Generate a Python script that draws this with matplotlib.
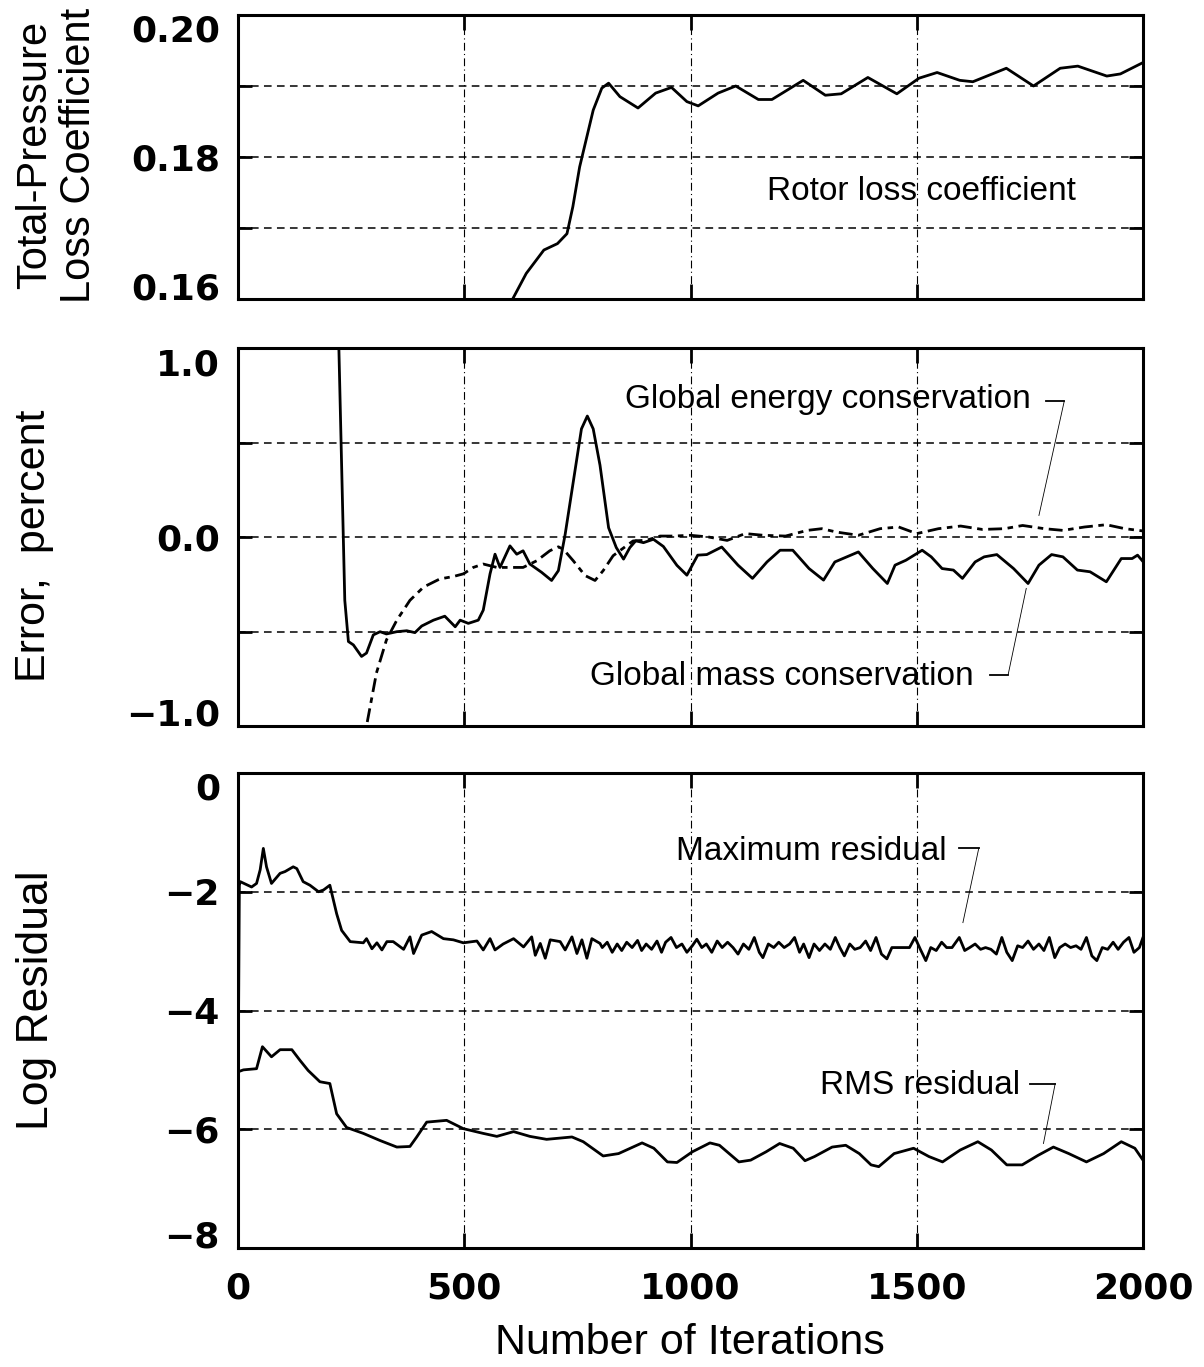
import matplotlib
matplotlib.use('Agg')
import matplotlib.pyplot as plt
from matplotlib.ticker import FuncFormatter

# ── data ────────────────────────────────────────────────────────────────────

# rotor total-pressure loss coefficient
loss_iter = [590, 607, 637, 676, 706, 727, 740, 755, 785, 804, 819, 844, 884, 923, 958,
             992, 1017, 1061, 1100, 1150, 1180, 1249, 1298, 1333, 1392, 1456, 1505, 1545,
             1595, 1624, 1698, 1758, 1817, 1856, 1920, 1950, 2000]
loss_val = [0.1585, 0.1600, 0.1636, 0.1669, 0.1678, 0.1692, 0.1730, 0.1786, 0.1866, 0.1897,
            0.1904, 0.1885, 0.1869, 0.1890, 0.1898, 0.1878, 0.1872, 0.1890, 0.1900, 0.1881,
            0.1881, 0.1908, 0.1887, 0.1889, 0.1912, 0.1889, 0.1911, 0.1919, 0.1908, 0.1906,
            0.1925, 0.1900, 0.1925, 0.1928, 0.1914, 0.1917, 0.1933]

# global mass conservation error (solid)
mass_iter = [218, 236, 244, 255, 273, 284, 299, 314, 328, 351,
             373, 391, 406, 432, 457, 480, 491, 509, 531, 542,
             557, 568, 579, 601, 616, 630, 645, 671, 693, 708,
             723, 741, 759, 772, 785, 800, 819, 836, 852, 866,
             879, 896, 918, 940, 970, 992, 1016, 1036, 1069, 1105,
             1137, 1169, 1198, 1226, 1262, 1294, 1319, 1371, 1403, 1435,
             1452, 1476, 1512, 1532, 1556, 1581, 1601, 1629, 1649, 1677,
             1714, 1746, 1770, 1798, 1823, 1855, 1883, 1919, 1952, 1976,
             1988, 2000]
mass_err = [1.5, -0.335, -0.553, -0.571, -0.632, -0.614, -0.518, -0.501, -0.513, -0.501,
            -0.496, -0.506, -0.471, -0.440, -0.419, -0.475, -0.440, -0.457, -0.440, -0.387,
            -0.195, -0.091, -0.161, -0.047, -0.091, -0.073, -0.143, -0.187, -0.230, -0.178,
            0.014, 0.293, 0.572, 0.640, 0.572, 0.380, 0.049, -0.056, -0.117, -0.056,
            -0.020, -0.030, -0.012, -0.050, -0.150, -0.202, -0.096, -0.093, -0.053, -0.149,
            -0.219, -0.132, -0.070, -0.070, -0.167, -0.228, -0.132, -0.079, -0.167, -0.246,
            -0.149, -0.123, -0.070, -0.105, -0.167, -0.175, -0.219, -0.132, -0.105, -0.093,
            -0.167, -0.246, -0.149, -0.093, -0.105, -0.175, -0.184, -0.237, -0.114, -0.114,
            -0.096, -0.130]

# global energy conservation error (dashed)
energy_iter = [270, 284, 306, 328, 351, 380, 410, 446, 476, 498,
               520, 542, 572, 601, 630, 660, 689, 708, 719, 741,
               767, 789, 807, 829, 848, 873, 903, 933, 962, 1000,
               1040, 1081, 1121, 1161, 1210, 1258, 1290, 1323, 1371, 1419,
               1460, 1500, 1548, 1597, 1645, 1694, 1734, 1782, 1823, 1871,
               1919, 1960, 2000]
energy_err = [-1.3, -1.0, -0.719, -0.545, -0.44, -0.335, -0.265, -0.222, -0.209, -0.195,
              -0.161, -0.143, -0.161, -0.161, -0.161, -0.126, -0.073, -0.052, -0.065, -0.126,
              -0.204, -0.230, -0.178, -0.099, -0.065, -0.021, -0.017, 0.005, 0.005, 0.009,
              0.0, -0.018, 0.018, 0.009, 0.005, 0.035, 0.044, 0.026, 0.009, 0.044,
              0.053, 0.018, 0.044, 0.058, 0.040, 0.044, 0.061, 0.044, 0.035, 0.053,
              0.065, 0.044, 0.032]

# log of maximum residual
max_iter = [0, 3, 5, 30, 41, 49, 56, 63, 74, 93,
            104, 122, 130, 144, 159, 178, 189, 203, 218, 229,
            248, 277, 284, 296, 307, 318, 329, 343, 366, 380,
            388, 406, 428, 454, 476, 498, 528, 542, 557, 568,
            586, 609, 631, 649, 657, 668, 679, 690, 712, 723,
            738, 749, 760, 771, 782, 800,
            805, 816, 827, 838, 848, 859, 871, 883, 892, 902,
            914, 926, 936, 945, 957, 969, 981, 992, 1004, 1014,
            1025, 1035, 1047, 1059, 1070, 1082, 1094, 1105, 1117, 1129,
            1141, 1152, 1160, 1172, 1184, 1195, 1207, 1219, 1230, 1241,
            1250, 1262, 1273, 1285, 1297, 1309, 1320, 1330, 1340, 1352,
            1363, 1375, 1387, 1398, 1410, 1422, 1434, 1445, 1457, 1469,
            1484, 1496, 1508, 1520, 1531, 1543, 1555, 1566, 1578, 1594,
            1606, 1617, 1629, 1641, 1652, 1664, 1676, 1688, 1699, 1711,
            1723, 1734, 1746, 1758, 1770, 1781, 1793, 1805, 1816, 1828,
            1840, 1852, 1863, 1875, 1887, 1898, 1910, 1922, 1934, 1945,
            1957, 1969, 1980, 1992, 2000]
max_res = [-5.6, -1.89, -1.83, -1.92, -1.86, -1.63, -1.27, -1.58, -1.86, -1.69,
           -1.66, -1.58, -1.61, -1.83, -1.89, -2.00, -1.97, -1.89, -2.37, -2.65,
           -2.84, -2.86, -2.79, -2.96, -2.86, -2.98, -2.84, -2.84, -2.97, -2.76,
           -3.04, -2.73, -2.67, -2.79, -2.81, -2.86, -2.83, -2.98, -2.79, -2.98,
           -2.88, -2.79, -2.93, -2.76, -3.07, -2.87, -3.12, -2.81, -2.84, -2.98,
           -2.76, -3.04, -2.81, -3.12, -2.79, -2.87,
           -2.94, -2.85, -3.02, -2.88, -2.99, -2.85, -2.94, -2.82, -2.99, -2.88,
           -2.97, -2.83, -3.02, -2.85, -2.77, -2.94, -2.88, -3.02, -2.91, -2.80,
           -2.94, -2.88, -3.02, -2.83, -2.94, -2.85, -2.94, -3.05, -2.88, -2.97,
           -2.77, -3.02, -3.11, -2.88, -2.94, -2.85, -2.94, -2.88, -2.77, -3.02,
           -2.88, -3.11, -2.88, -2.99, -2.88, -2.97, -2.77, -2.94, -3.08, -2.88,
           -2.97, -2.94, -2.83, -2.99, -2.77, -3.05, -3.13, -2.94, -2.94, -2.94,
           -2.94, -2.77, -2.97, -3.16, -2.94, -2.99, -2.85, -2.94, -2.94, -2.77,
           -2.99, -2.94, -2.88, -2.97, -2.94, -2.97, -3.05, -2.77, -3.02, -3.16,
           -2.91, -2.94, -2.83, -2.97, -2.88, -2.99, -2.77, -3.11, -2.94, -2.88,
           -2.94, -2.91, -2.97, -2.77, -3.08, -3.16, -2.94, -2.97, -2.85, -2.97,
           -2.85, -2.77, -3.02, -2.94, -2.77]

# log of RMS residual
rms_iter = [0, 1, 12, 41, 54, 74, 93, 119, 137, 155,
            181, 203, 218, 240, 277, 314, 351, 380, 395, 417,
            461, 498, 542, 572, 609, 645, 682, 738, 763,
            807, 841, 893, 919, 949, 970, 1004, 1043, 1064, 1107,
            1133, 1167, 1197, 1227, 1253, 1274, 1313, 1343, 1373, 1399,
            1416, 1450, 1493, 1527, 1557, 1596, 1635, 1665, 1699, 1733,
            1768, 1802, 1836, 1875, 1913, 1952, 1982, 2000]
rms_res = [-6.3, -5.03, -5.00, -4.98, -4.61, -4.78, -4.66, -4.66, -4.84, -5.01,
           -5.20, -5.23, -5.74, -5.97, -6.07, -6.19, -6.30, -6.29, -6.13, -5.88,
           -5.85, -5.99, -6.07, -6.12, -6.04, -6.12, -6.17, -6.13, -6.21,
           -6.45, -6.41, -6.23, -6.32, -6.55, -6.56, -6.38, -6.23, -6.27, -6.55,
           -6.52, -6.38, -6.24, -6.32, -6.53, -6.46, -6.30, -6.27, -6.41, -6.60,
           -6.63, -6.41, -6.32, -6.46, -6.55, -6.35, -6.21, -6.35, -6.60, -6.60,
           -6.44, -6.30, -6.41, -6.55, -6.41, -6.21, -6.32, -6.52]

x_ticks = [0, 500, 1000, 1500, 2000]

# ── figure ───────────────────────────────────────────────────────────────────

plt.rcParams['font.family'] = 'DejaVu Sans'
plt.rcParams['font.weight'] = 'bold'
TXT = dict(family='Liberation Sans', weight='normal')

W, H = 1204, 1367
fig = plt.figure(figsize=(W / 100, H / 100), dpi=100)


def panel(top, bottom):
    return fig.add_axes([238 / W, 1 - bottom / H, 905 / W, (bottom - top) / H])


ax1 = panel(15, 299)
ax2 = panel(348, 726)
ax3 = panel(773, 1248)

minus = FuncFormatter(lambda v, p: ('%.1f' % v).replace('-', '\u2212'))
intfmt = FuncFormatter(lambda v, p: ('%d' % round(v)).replace('-', '\u2212'))

for ax in (ax1, ax2, ax3):
    for s in ax.spines.values():
        s.set_linewidth(2.2)
    ax.set_xlim(0, 2000)
    ax.set_xticks(x_ticks)
    ax.tick_params(which='both', direction='in', top=True, right=True,
                   width=2, labelsize=26)
    ax.tick_params(axis='y', which='both', length=10, pad=13)
    ax.tick_params(axis='x', length=11, pad=17)
    ax.grid(axis='y', which='both', linestyle=(0, (5, 3.5)), lw=1.1, color='k')
    ax.grid(axis='x', linestyle=(0, (7, 3, 1, 3)), lw=0.8, color='k')
    if ax is not ax3:
        ax.tick_params(axis='x', labelbottom=False)

# panel 1
ax1.plot(loss_iter, loss_val, color='k', lw=2.0)
ax1.set_ylim(0.16, 0.20)
ax1.set_yticks([0.16, 0.18, 0.20])
ax1.set_yticks([0.17, 0.19], minor=True)
ax1.yaxis.set_major_formatter(FuncFormatter(lambda v, p: '%.2f' % v))
ax1.text(1510, 0.1751, 'Rotor loss coefficient', ha='center', va='center',
         fontsize=24, **TXT)

# panel 2
ax2.plot(mass_iter, mass_err, color='k', lw=2.0)
ax2.plot(energy_iter, energy_err, color='k', lw=2.0, linestyle=(0, (5, 2, 2, 2)))
ax2.set_ylim(-1.0, 1.0)
ax2.set_yticks([-1.0, 0.0, 1.0])
ax2.set_yticks([-0.5, 0.5], minor=True)
ax2.yaxis.set_major_formatter(minus)
ax2.text(1303, 0.728, 'Global energy conservation', ha='center', va='center',
         fontsize=24, **TXT)
ax2.plot([1786, 1826], [0.719, 0.719], color='k', lw=1.3)
ax2.plot([1826, 1770], [0.719, 0.114], color='k', lw=0.6)
ax2.text(1201, -0.737, 'Global mass conservation', ha='center', va='center',
         fontsize=24, **TXT)
ax2.plot([1661, 1702], [-0.728, -0.728], color='k', lw=1.3)
ax2.plot([1702, 1742], [-0.728, -0.272], color='k', lw=0.6)

# panel 3
ax3.plot(max_iter, max_res, color='k', lw=2.0)
ax3.plot(rms_iter, rms_res, color='k', lw=2.0)
ax3.set_ylim(-8, 0)
ax3.set_yticks([-8, -6, -4, -2, 0])
ax3.yaxis.set_major_formatter(intfmt)
ax3.text(1267, -1.32, 'Maximum residual', ha='center', va='center',
         fontsize=24, **TXT)
ax3.plot([1594, 1637], [-1.27, -1.27], color='k', lw=1.3)
ax3.plot([1637, 1602], [-1.27, -2.52], color='k', lw=0.6)
ax3.text(1508, -5.26, 'RMS residual', ha='center', va='center',
         fontsize=24, **TXT)
ax3.plot([1750, 1806], [-5.23, -5.23], color='k', lw=1.3)
ax3.plot([1806, 1780], [-5.23, -6.24], color='k', lw=0.6)

# end labels sit inside the frame like the original
for ax in (ax1, ax2, ax3):
    ticks = ax.yaxis.get_major_ticks()
    ticks[0].label1.set_va('baseline')
    ticks[-1].label1.set_va('top')

# axis titles
fig.text(57 / W, 1 - 155 / H, 'Total-Pressure\nLoss Coefficient', rotation=90,
         ha='center', va='center', fontsize=30, linespacing=1.1, **TXT)
fig.text(34 / W, 1 - 546 / H, 'Error,  percent', rotation=90,
         ha='center', va='center', fontsize=31, **TXT)
fig.text(37 / W, 1 - 1000 / H, 'Log Residual', rotation=90,
         ha='center', va='center', fontsize=32, **TXT)
fig.text(690 / W, 1 - 1343 / H, 'Number of Iterations',
         ha='center', va='center', fontsize=31, **TXT)

fig.savefig('out.png', dpi=100)
